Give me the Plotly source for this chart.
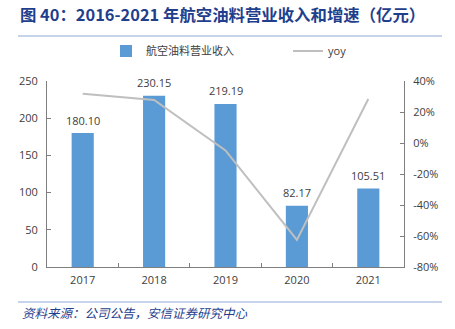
import plotly.graph_objects as go

years = ["2017", "2018", "2019", "2020", "2021"]
revenue = [180.10, 230.15, 219.19, 82.17, 105.51]
yoy = [31.8, 27.8, -4.8, -62.5, 28.4]
revenue_labels = ["180.10", "230.15", "219.19", "82.17", "105.51"]
left_ticks = [0, 50, 100, 150, 200, 250]
right_ticks = [-80, -60, -40, -20, 0, 20, 40]
right_tick_text = [f"{v}%" for v in right_ticks]

title_text = "图 40：2016-2021 年航空油料营业收入和增速（亿元）"
source_text = "资料来源：公司公告，安信证券研究中心"

W, H = 455, 329
ml, mr, mt, mb = 47, 51, 81, 62
ph = H - mt - mb
pw = W - ml - mr

def py(ypix):
    return (H - mb - ypix) / ph

def px(xpix):
    return (xpix - ml) / pw

FONT = "Open Sans, Noto Sans CJK SC, sans-serif"
TXT = "#404040"
AX = "#7f7f7f"
BLUE_T = "#1F3E8C"

fig = go.Figure()
fig.add_trace(go.Bar(
    x=years, y=revenue, name="航空油料营业收入",
    marker=dict(color="#5B9BD5", line=dict(width=0)),
    width=0.31, yaxis="y", legend="legend",
))
fig.add_trace(go.Scatter(
    x=years, y=yoy, name="yoy", mode="lines",
    line=dict(color="#BFBFBF", width=2), yaxis="y2", legend="legend2",
))

for i, (v, t) in enumerate(zip(revenue, revenue_labels)):
    fig.add_annotation(x=i, y=v, xref="x", yref="y", text=t, showarrow=False,
                       yanchor="middle", yshift=13,
                       font=dict(size=11, color=TXT, family=FONT))

fig.add_annotation(xref="paper", yref="paper", x=px(20), y=py(312.5),
                   xanchor="left", yanchor="middle", showarrow=False,
                   text=f"<i>{source_text}</i>",
                   font=dict(size=12.5, color=BLUE_T, family="Noto Sans CJK SC"))

fig.add_shape(type="line", xref="paper", yref="paper",
              x0=px(18), x1=px(442), y0=py(36), y1=py(36),
              line=dict(color="#8EA9D8", width=1))
fig.add_shape(type="line", xref="paper", yref="paper",
              x0=px(18), x1=px(442), y0=py(302), y1=py(302),
              line=dict(color="#8EA9D8", width=1))

leg_common = dict(orientation="h", xanchor="left", yanchor="middle",
                  font=dict(size=11, color=TXT, family=FONT),
                  bgcolor="rgba(0,0,0,0)", itemwidth=30)

fig.update_layout(
    width=W, height=H,
    margin=dict(l=ml, r=mr, t=mt, b=mb, pad=0),
    paper_bgcolor="white", plot_bgcolor="white",
    font=dict(family=FONT, size=11, color=TXT),
    title=dict(text=f"<b>{title_text}</b>", xref="container", yref="container",
               x=20 / W, y=1 - 15 / H, xanchor="left", yanchor="middle",
               font=dict(size=16.4, color=BLUE_T, family="Noto Sans CJK SC")),
    showlegend=True,
    legend=dict(x=px(106), y=py(51), **leg_common),
    legend2=dict(x=px(288), y=py(51), **leg_common),
    xaxis=dict(type="category", range=[-0.5, 4.5], showline=True, linecolor=AX,
               linewidth=1, ticks="inside", ticklen=4, tickcolor=AX,
               tickson="boundaries", showgrid=False, tickfont=dict(size=11, color=TXT),
               ticklabelstandoff=3),
    yaxis=dict(range=[0, 250], tickvals=left_ticks, showline=True, linecolor=AX,
               linewidth=1, ticks="inside", ticklen=4, tickcolor=AX, showgrid=False,
               zeroline=False, tickfont=dict(size=11, color=TXT), ticklabelstandoff=6),
    yaxis2=dict(range=[-80, 40], tickvals=right_ticks, ticktext=right_tick_text,
                overlaying="y", side="right", showline=True, linecolor=AX, linewidth=1,
                ticks="inside", ticklen=4, tickcolor=AX, showgrid=False, zeroline=False,
                tickfont=dict(size=11, color=TXT), ticklabelstandoff=6),
)

fig.write_html("out.html")
